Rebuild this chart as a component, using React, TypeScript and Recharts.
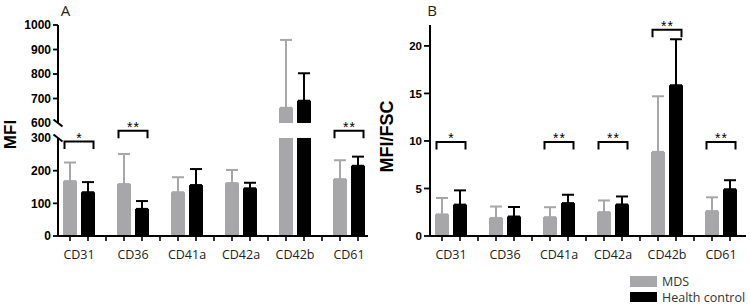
import React from 'react';
import { ComposedChart, Bar, XAxis, YAxis, ErrorBar, Scatter, Legend } from 'recharts';

// ---------- data ----------
const CATEGORIES = ['CD31', 'CD36', 'CD41a', 'CD42a', 'CD42b', 'CD61'];
const SERIES_NAMES = ['MDS', 'Health control'];

// Panel A: MFI (mean and upper error)
const A_MDS = [168, 159, 134, 162, 662, 174];
const A_MDS_ERR = [57, 92, 46, 40, 277, 58];
const A_HC = [134, 83, 156, 146, 691, 215];
const A_HC_ERR = [31, 24, 49, 17, 112, 28];
const A_SIG = [289, 322, null, null, null, 322];
const A_SIG_TEXT = ['*', '**', '', '', '', '**'];
const A_LOWER_TICKS = [0, 100, 200, 300];
const A_UPPER_TICKS = [600, 700, 800, 900, 1000];
const A_BREAK_LOW = 300;
const A_BREAK_HIGH = 600;
const A_LOWER_MAX = 346;
const A_UPPER_MAX = 1000;

// Panel B: MFI/FSC
const B_MDS = [2.27, 1.9, 1.98, 2.51, 8.85, 2.62];
const B_MDS_ERR = [1.73, 1.2, 1.05, 1.23, 5.85, 1.45];
const B_HC = [3.3, 2.05, 3.46, 3.32, 15.86, 4.92];
const B_HC_ERR = [1.5, 1.0, 0.88, 0.84, 4.84, 0.95];
const B_SIG = [9.9, null, 9.9, 9.9, 21.7, 9.9];
const B_SIG_TEXT = ['*', '', '**', '**', '**', '**'];
const B_TICKS = [0, 5, 10, 15, 20];
const B_MAX = 22.2;

// ---------- derived tables ----------
const lowerA = CATEGORIES.map((name, i) => ({
  name,
  mds: Math.min(A_MDS[i], A_BREAK_LOW),
  hc: Math.min(A_HC[i], A_BREAK_LOW),
  mdsErr: A_MDS[i] <= A_BREAK_LOW ? [0, A_MDS_ERR[i]] : null,
  hcErr: A_HC[i] <= A_BREAK_LOW ? [0, A_HC_ERR[i]] : null,
  sig: A_SIG[i],
  sigText: A_SIG_TEXT[i],
}));

const upperA = CATEGORIES.map((name, i) => ({
  name,
  mds: A_MDS[i] > A_BREAK_HIGH ? A_MDS[i] : null,
  hc: A_HC[i] > A_BREAK_HIGH ? A_HC[i] : null,
  mdsErr: A_MDS[i] > A_BREAK_HIGH ? [0, A_MDS_ERR[i]] : null,
  hcErr: A_HC[i] > A_BREAK_HIGH ? [0, A_HC_ERR[i]] : null,
}));

const dataB = CATEGORIES.map((name, i) => ({
  name,
  mds: B_MDS[i],
  hc: B_HC[i],
  mdsErr: [0, B_MDS_ERR[i]],
  hcErr: [0, B_HC_ERR[i]],
  sig: B_SIG[i],
  sigText: B_SIG_TEXT[i],
}));

// ---------- style ----------
const GRAY = '#a7a7aa';
const BLACK = '#000000';
const FONT_NUM = '"Liberation Sans", Arial, sans-serif';
const FONT_TXT = '"Open Sans", sans-serif';
const W = 375;
const H = 307;

function makeYTick(breakAt: number | null, len: number, gap: number, fs: number) {
  return (props: any) => {
    const { x, y, payload } = props;
    const v = payload.value;
    return (
      <g>
        {v === breakAt ? (
          <line x1={x - 4.5} y1={y - 3.5} x2={x + 4.5} y2={y + 3.5} stroke="#000" strokeWidth={2} />
        ) : (
          <line x1={x - len} y1={y} x2={x} y2={y} stroke="#000" strokeWidth={1.8} />
        )}
        <text x={x - gap} y={y} dy="0.36em" textAnchor="end" fontFamily={FONT_NUM} fontWeight="bold" fontSize={fs} fill="#000">
          {v}
        </text>
      </g>
    );
  };
}

const XTick = (props: any) => {
  const { x, y, payload, index } = props;
  const offsets = index < CATEGORIES.length - 1 ? [-9, 9, 27] : [-9, 9];
  return (
    <g>
      {offsets.map((o) => (
        <line key={o} x1={x + o} y1={y} x2={x + o} y2={y + 5} stroke="#000" strokeWidth={1.6} />
      ))}
      <text x={x} y={y + 23} textAnchor="middle" fontFamily={FONT_TXT} fontSize={12.5} fill="#222">
        {payload.value}
      </text>
    </g>
  );
};

const Bracket = (props: any) => {
  const { cx, cy, payload } = props;
  if (!payload || payload.sig == null || !Number.isFinite(cx) || !Number.isFinite(cy)) return <g />;
  return (
    <g>
      <path d={`M${cx - 14.5},${cy + 7.5}V${cy}H${cx + 14.5}V${cy + 7.5}`} fill="none" stroke="#000" strokeWidth={2} />
      <text x={cx + 0.5} y={cy + 1.5} textAnchor="middle" fontFamily={FONT_NUM} fontSize={14} fill="#000" letterSpacing={1}>
        {payload.sigText}
      </text>
    </g>
  );
};

const LegendContent = (props: any) => {
  const items = (props.payload || [])
    .filter((p: any) => p.type !== 'none')
    .slice()
    .sort((a: any, b: any) => SERIES_NAMES.indexOf(a.value) - SERIES_NAMES.indexOf(b.value));
  return (
    <div style={{ display: 'flex', flexDirection: 'column' }}>
      {items.map((p: any, i: number) => (
        <div key={p.value} style={{ display: 'flex', alignItems: 'center', height: 11, marginTop: i === 0 ? 0 : 4.5 }}>
          <div style={{ width: 27, height: 10.5, background: p.color }} />
          <span style={{ marginLeft: 5, fontFamily: FONT_TXT, fontSize: 12.5, color: '#333', lineHeight: '11px', whiteSpace: 'nowrap' }}>
            {p.value}
          </span>
        </div>
      ))}
    </div>
  );
};

const abs: React.CSSProperties = { position: 'absolute', left: 0, top: 0 };

export default function App() {
  const lowerPlotHeight = 113;
  const gapPx = lowerPlotHeight * (1 - A_BREAK_LOW / A_LOWER_MAX);
  return (
    <div style={{ position: 'absolute', left: 0, top: 0, width: 750, height: 307, background: '#fff', overflow: 'hidden' }}>
      {/* Panel A - upper segment */}
      <div style={{ ...abs, width: W, height: H }}>
        <ComposedChart width={W} height={H} data={upperA} margin={{ top: 25, right: 7, bottom: 184, left: 0 }} barSize={14} barGap={4}>
          <XAxis dataKey="name" hide padding={{ left: -6, right: -8 }} />
          <YAxis
            width={58}
            domain={[A_BREAK_HIGH, A_UPPER_MAX]}
            ticks={A_UPPER_TICKS}
            interval={0}
            tickSize={0}
            tickMargin={0}
            tick={makeYTick(A_BREAK_HIGH, 5, 7, 12)}
            axisLine={{ stroke: '#000', strokeWidth: 2 }}
          />
          <Bar dataKey="mds" name={SERIES_NAMES[0]} fill={GRAY} isAnimationActive={false}>
            <ErrorBar dataKey="mdsErr" width={6} strokeWidth={2} stroke={GRAY} direction="y" />
          </Bar>
          <Bar dataKey="hc" name={SERIES_NAMES[1]} fill={BLACK} isAnimationActive={false}>
            <ErrorBar dataKey="hcErr" width={6} strokeWidth={2} stroke={BLACK} direction="y" />
          </Bar>
        </ComposedChart>
      </div>
      {/* Panel A - lower segment */}
      <div style={{ ...abs, width: W, height: H }}>
        <ComposedChart width={W} height={H} data={lowerA} margin={{ top: 123, right: 7, bottom: 41, left: 0 }} barSize={14} barGap={4}>
          <XAxis
            dataKey="name"
            height={30}
            padding={{ left: -6, right: -8 }}
            interval={0}
            tickSize={0}
            tickMargin={0}
            tick={XTick}
            axisLine={{ stroke: '#000', strokeWidth: 2 }}
          />
          <YAxis
            width={58}
            domain={[0, A_LOWER_MAX]}
            ticks={A_LOWER_TICKS}
            interval={0}
            tickSize={0}
            tickMargin={0}
            tick={makeYTick(A_BREAK_LOW, 5, 7, 12)}
            axisLine={{ stroke: '#000', strokeWidth: 2, strokeDasharray: `0 ${gapPx} ${lowerPlotHeight} 40` }}
          />
          <Bar dataKey="mds" name={SERIES_NAMES[0]} fill={GRAY} isAnimationActive={false}>
            <ErrorBar dataKey="mdsErr" width={6} strokeWidth={2} stroke={GRAY} direction="y" />
          </Bar>
          <Bar dataKey="hc" name={SERIES_NAMES[1]} fill={BLACK} isAnimationActive={false}>
            <ErrorBar dataKey="hcErr" width={6} strokeWidth={2} stroke={BLACK} direction="y" />
          </Bar>
          <Scatter dataKey="sig" shape={Bracket} legendType="none" isAnimationActive={false} />
        </ComposedChart>
      </div>
      {/* Panel B */}
      <div style={{ position: 'absolute', left: 375, top: 0, width: W, height: H }}>
        <ComposedChart width={W} height={H} data={dataB} margin={{ top: 25, right: 4, bottom: 41, left: 0 }} barSize={14} barGap={4}>
          <XAxis
            dataKey="name"
            height={30}
            padding={{ left: -6, right: -2 }}
            interval={0}
            tickSize={0}
            tickMargin={0}
            tick={XTick}
            axisLine={{ stroke: '#000', strokeWidth: 2 }}
          />
          <YAxis
            width={55}
            domain={[0, B_MAX]}
            ticks={B_TICKS}
            interval={0}
            tickSize={0}
            tickMargin={0}
            tick={makeYTick(null, 6, 8, 11.5)}
            axisLine={{ stroke: '#000', strokeWidth: 2 }}
          />
          <Bar dataKey="mds" name={SERIES_NAMES[0]} fill={GRAY} isAnimationActive={false}>
            <ErrorBar dataKey="mdsErr" width={6} strokeWidth={2} stroke={GRAY} direction="y" />
          </Bar>
          <Bar dataKey="hc" name={SERIES_NAMES[1]} fill={BLACK} isAnimationActive={false}>
            <ErrorBar dataKey="hcErr" width={6} strokeWidth={2} stroke={BLACK} direction="y" />
          </Bar>
          <Scatter dataKey="sig" shape={Bracket} legendType="none" isAnimationActive={false} />
          <Legend
            layout="vertical"
            align="center"
            verticalAlign="middle"
            content={LegendContent}
            wrapperStyle={{ left: 255, top: 276, width: 'auto', height: 'auto' }}
          />
        </ComposedChart>
      </div>
      {/* Panel letters and axis titles */}
      <svg width={750} height={307} style={{ ...abs, pointerEvents: 'none' }}>
        <text x={65.5} y={15.5} textAnchor="middle" fontFamily={FONT_TXT} fontSize={15} fill="#222">A</text>
        <text x={432} y={15.5} textAnchor="middle" fontFamily={FONT_TXT} fontSize={15} fill="#222">B</text>
        <text transform="translate(10,134.5) rotate(-90)" textAnchor="middle" dominantBaseline="central" fontFamily={FONT_NUM} fontWeight="bold" fontSize={17} fill="#000">MFI</text>
        <text transform="translate(387,136.5) rotate(-90)" textAnchor="middle" dominantBaseline="central" fontFamily={FONT_NUM} fontWeight="bold" fontSize={18} fill="#000">MFI/FSC</text>
      </svg>
    </div>
  );
}
